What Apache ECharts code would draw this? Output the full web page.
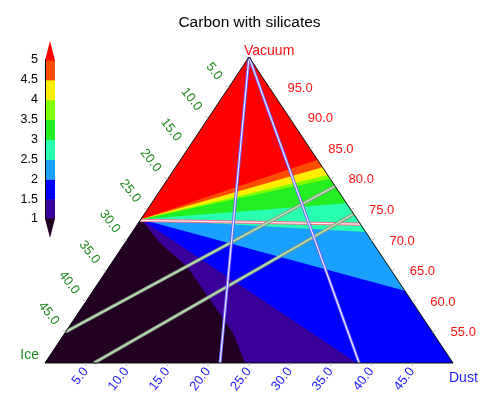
<!DOCTYPE html>
<html><head><meta charset="utf-8">
<script src="https://cdn.jsdelivr.net/npm/echarts@6/dist/echarts.min.js"></script>
<style>html,body{margin:0;padding:0;background:#fff}#c{width:499px;height:399px}</style>
</head><body><div id="c"></div>
<script>
const chartTitle = 'Carbon with silicates';
const cornerLabels = ['Vacuum', 'Ice', 'Dust'];
const levels = [1, 1.5, 2, 2.5, 3, 3.5, 4, 4.5, 5];
const levelLabels = ['1', '1.5', '2', '2.5', '3', '3.5', '4', '4.5', '5'];
// colours: <1, 1-1.5, 1.5-2, 2-2.5, 2.5-3, 3-3.5, 3.5-4, 4-4.5, 4.5-5, >5
const bandColors = ['#220022', '#3a0099', '#0000ff', '#1aa0ff', '#28ffb0', '#22ee22', '#80ff00', '#ffee00', '#ff4d00', '#ff0000'];

// contour boundaries as ternary [vacuum %, dust %] pairs (ice = 100 - vacuum - dust)
const boundary1   = [[73.5, 0], [69.6, 4.3], [65.7, 9.6], [60.1, 15.3], [54.9, 20.6], [50, 24.5]];
const boundary1_5 = [[73.5, 0], [50, 38.2]];
const boundary2   = [[73.5, 0], [61.8, 38.2]];
const boundary2_5 = [[73.5, 0], [71.4, 28.6]];
const boundary3   = [[73.5, 0], [76.1, 23.9]];
const boundary3_5 = [[73.5, 0], [80.1, 19.9]];
const boundary4   = [[73.5, 0], [80.7, 19.3]];
const boundary4_5 = [[73.5, 0], [82.0, 18.0]];
const boundary5   = [[73.5, 0], [83.2, 16.8]];

// overlay lines, ternary [vacuum %, dust %]
const pinkLine   = [[73.3, 0], [72.7, 27.3]];
const greenLineA = [[55.1, 0], [78.9, 21.1]];
const greenLineB = [[50, 6.0], [74.35, 25.65]];
const blueLineA  = [[100, 0], [50, 21.45]];
const blueLineB  = [[100, 0], [50, 38.5]];

// axis ticks
const iceTicks = [5, 10, 15, 20, 25, 30, 35, 40, 45];
const iceTickLabels = ['5.0', '10.0', '15.0', '20.0', '25.0', '30.0', '35.0', '40.0', '45.0'];
const vacuumTicks = [95, 90, 85, 80, 75, 70, 65, 60, 55];
const vacuumTickLabels = ['95.0', '90.0', '85.0', '80.0', '75.0', '70.0', '65.0', '60.0', '55.0'];
const dustTicks = [5, 10, 15, 20, 25, 30, 35, 40, 45];
const dustTickLabels = ['5.0', '10.0', '15.0', '20.0', '25.0', '30.0', '35.0', '40.0', '45.0'];

const FONT = '"Liberation Sans", Arial, Helvetica, sans-serif';
const GREEN = '#1e8a1e', RED = '#ff1010', BLUE = '#1a1aff';

function renderTernary(params, api) {
  const P = (v, d) => api.coord([(v - 50) / 2 + d, v - 50]);
  const ch = [];
  const A = P(100, 0), D = P(50, 50), I = P(50, 0);
  ch.push({ type: 'polygon', shape: { points: [A, D, I] }, style: { fill: bandColors[9] } });
  const bounds = [boundary5, boundary4_5, boundary4, boundary3_5, boundary3, boundary2_5, boundary2, boundary1_5, boundary1];
  bounds.forEach((b, k) => {
    const pts = b.map(p => P(p[0], p[1]));
    const end = b[b.length - 1];
    if (end[0] > 50.01) pts.push(D);
    pts.push(I);
    ch.push({ type: 'polygon', shape: { points: pts }, style: { fill: bandColors[8 - k] } });
  });
  function dbl(line, outer, inner, wo, wi) {
    const pts = line.map(p => P(p[0], p[1]));
    ch.push({ type: 'polyline', shape: { points: pts }, style: { stroke: outer, lineWidth: wo, fill: null } });
    ch.push({ type: 'polyline', shape: { points: pts }, style: { stroke: inner, lineWidth: wi, fill: null } });
  }
  dbl(pinkLine, '#f0708c', '#ffe8ee', 3.2, 1.2);
  dbl(greenLineA, '#8a9a8a', '#b8e8b0', 3.4, 1.4);
  dbl(greenLineB, '#8a9a8a', '#b8e8b0', 3.4, 1.4);
  dbl(blueLineA, '#6a5cff', '#eeeeff', 3.0, 1.2);
  dbl(blueLineB, '#6a5cff', '#eeeeff', 3.0, 1.2);
  // outline
  ch.push({ type: 'polygon', shape: { points: [A, D, I] }, style: { fill: null, stroke: '#111', lineWidth: 1 } });

  const rotL = -52 * Math.PI / 180, rotB = 52 * Math.PI / 180;
  iceTicks.forEach((t, k) => {
    const p = P(100 - t, 0);
    ch.push({ type: 'line', shape: { x1: p[0], y1: p[1], x2: p[0] - 3, y2: p[1] - 2 }, style: { stroke: '#bbb', lineWidth: 1 } });
    ch.push({ type: 'text', x: p[0] - 9, y: p[1] - 9, rotation: rotL,
      style: { text: iceTickLabels[k], fill: GREEN, font: '13px ' + FONT, align: 'right', verticalAlign: 'middle' } });
  });
  vacuumTicks.forEach((t, k) => {
    const p = P(t, 100 - t);
    ch.push({ type: 'line', shape: { x1: p[0], y1: p[1], x2: p[0] + 3, y2: p[1] - 2 }, style: { stroke: '#bbb', lineWidth: 1 } });
    ch.push({ type: 'text', x: p[0] + 18, y: p[1] + 0.5, rotation: 0,
      style: { text: vacuumTickLabels[k], fill: RED, font: '13px ' + FONT, align: 'left', verticalAlign: 'middle' } });
  });
  dustTicks.forEach((t, k) => {
    const p = P(50, t);
    ch.push({ type: 'line', shape: { x1: p[0], y1: p[1], x2: p[0], y2: p[1] + 3 }, style: { stroke: '#bbb', lineWidth: 1 } });
    ch.push({ type: 'text', x: p[0], y: p[1] + 6, rotation: rotB,
      style: { text: dustTickLabels[k], fill: BLUE, font: '13px ' + FONT, align: 'right', verticalAlign: 'middle' } });
  });
  ch.push({ type: 'text', x: A[0] - 5, y: A[1] - 6, style: { text: cornerLabels[0], fill: RED, font: '14px ' + FONT, align: 'left', verticalAlign: 'middle' } });
  ch.push({ type: 'text', x: I[0] - 6, y: I[1] - 8, style: { text: cornerLabels[1], fill: GREEN, font: '14px ' + FONT, align: 'right', verticalAlign: 'middle' } });
  ch.push({ type: 'text', x: D[0] - 4, y: D[1] + 15, style: { text: cornerLabels[2], fill: BLUE, font: '14px ' + FONT, align: 'left', verticalAlign: 'middle' } });
  return { type: 'group', children: ch };
}

function renderColorbar(params, api) {
  const ch = [];
  for (let k = 0; k < levels.length - 1; k++) {
    const p0 = api.coord([0, levels[k]]), p1 = api.coord([1, levels[k + 1]]);
    ch.push({ type: 'rect', shape: { x: p0[0], y: p1[1], width: p1[0] - p0[0], height: p0[1] - p1[1] + 0.5 }, style: { fill: bandColors[k + 1] } });
  }
  const t0 = api.coord([0, levels[levels.length - 1]]), t1 = api.coord([1, levels[levels.length - 1]]);
  ch.push({ type: 'polygon', shape: { points: [[t0[0], t0[1] + 0.5], [t1[0], t1[1] + 0.5], [(t0[0] + t1[0]) / 2, t0[1] - 19]] }, style: { fill: bandColors[9] } });
  const b0 = api.coord([0, levels[0]]), b1 = api.coord([1, levels[0]]);
  ch.push({ type: 'polygon', shape: { points: [[b0[0], b0[1] - 0.5], [b1[0], b1[1] - 0.5], [(b0[0] + b1[0]) / 2, b0[1] + 19]] }, style: { fill: bandColors[0] } });
  return { type: 'group', children: ch };
}

const chart = echarts.init(document.getElementById('c'), null, { renderer: 'canvas' });
chart.setOption({
  animation: false,
  backgroundColor: '#fff',
  title: { text: chartTitle, left: 'center', top: 15, padding: 0,
    textStyle: { fontFamily: FONT, fontSize: 15.5, fontWeight: 'normal', color: '#000' } },
  grid: [
    { left: 45, top: 57, width: 408, height: 306 },
    { left: 45, top: 60, width: 10, height: 159 }
  ],
  xAxis: [
    { type: 'value', gridIndex: 0, min: 0, max: 50, show: false },
    { type: 'value', gridIndex: 1, min: 0, max: 1, show: false }
  ],
  yAxis: [
    { type: 'value', gridIndex: 0, min: 0, max: 50, show: false },
    { type: 'value', gridIndex: 1, min: 1, max: 5, interval: 0.5, position: 'left',
      axisLine: { show: true, lineStyle: { color: '#000', width: 1 } },
      axisTick: { show: false }, splitLine: { show: false },
      axisLabel: { margin: 7, color: '#000', fontSize: 12.5, fontFamily: FONT,
        formatter: v => { const i = levels.indexOf(v); return i >= 0 ? levelLabels[i] : ''; } },
      z: 5 }
  ],
  series: [
    { type: 'custom', xAxisIndex: 0, yAxisIndex: 0, clip: false, data: [[0, 0]], renderItem: renderTernary, silent: true },
    { type: 'custom', xAxisIndex: 1, yAxisIndex: 1, clip: false, data: [[0, 1]], renderItem: renderColorbar, silent: true, z: 1 }
  ]
});
</script></body></html>
